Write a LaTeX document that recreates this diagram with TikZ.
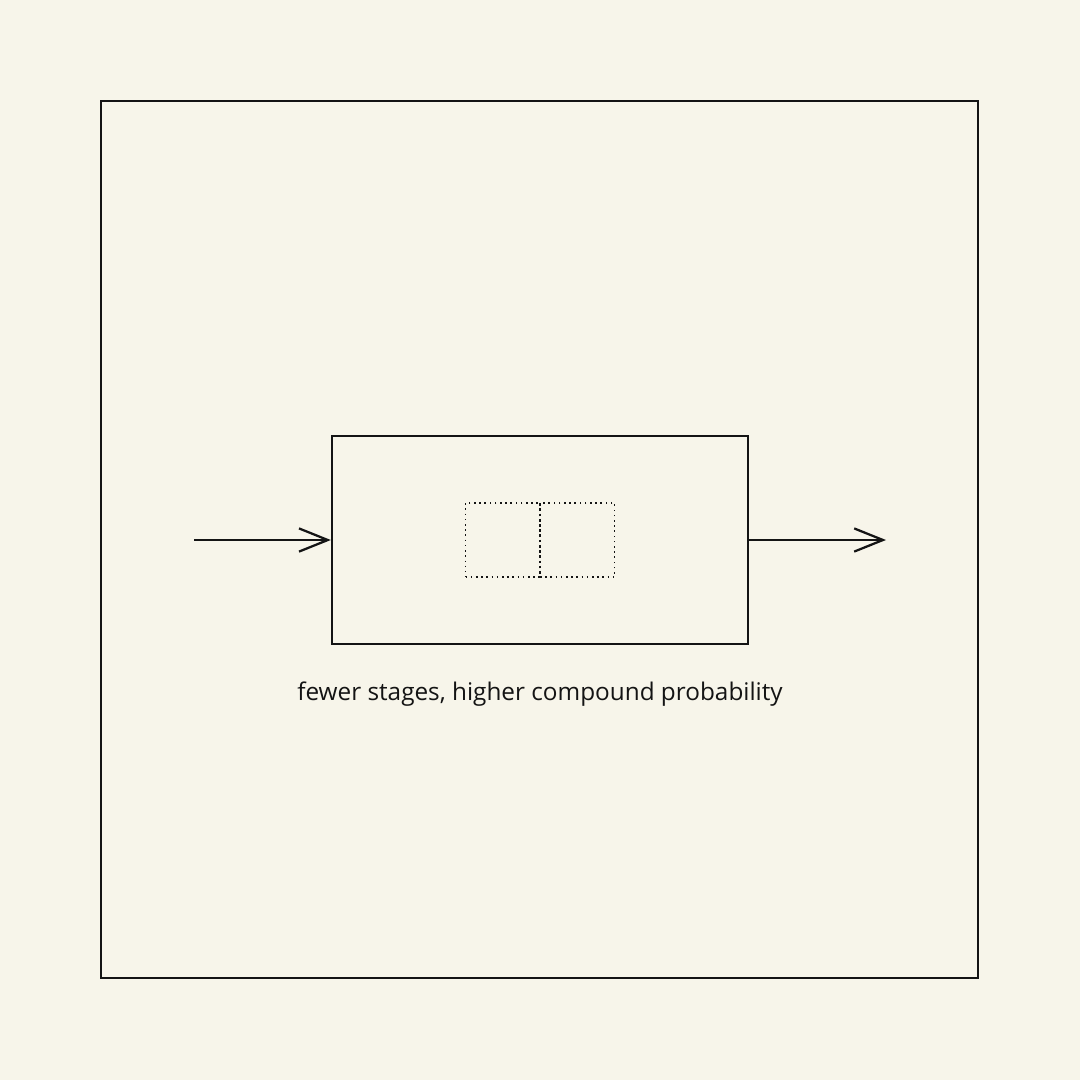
\documentclass[tikz,border=0pt]{standalone}
\usepackage{fontspec}
\setmainfont{Open Sans}
\usetikzlibrary{arrows.meta}
\definecolor{paper}{HTML}{F7F5EA}
\definecolor{ink}{HTML}{141414}

\begin{document}
\begin{tikzpicture}[x=0.025cm,y=-0.025cm,
  line/.style={draw=ink,line width=1.6pt},
  flow/.style={line,-{Straight Barb[length=0.72cm,width=0.58cm,line width=1.6pt]}},
  cell/.style={draw=ink,line width=1.1pt,dash pattern=on 1.1pt off 2.6pt,minimum width=1.86cm,minimum height=1.86cm,inner sep=0pt,outer sep=0pt}]
\fill[paper] (0,0) rectangle (1080,1080);
\useasboundingbox (0,0) rectangle (1080,1080);

\draw[line] (101,101) rectangle (978,978);

\node[line,minimum width=10.4cm,minimum height=5.2cm,inner sep=0pt] (stage) at (540,540) {};
\node[cell,anchor=east] (left) at (540,540) {};
\node[cell,anchor=west] (right) at (540,540) {};

\coordinate (in) at (194,540);
\coordinate (out) at (886,540);
\draw[flow] (in) -- (stage.west);
\draw[flow] (stage.east) -- (out);

\node[text=ink,font=\fontsize{17.3}{20}\selectfont] (caption) at (540,694) {fewer stages, higher compound probability};
\end{tikzpicture}
\end{document}
